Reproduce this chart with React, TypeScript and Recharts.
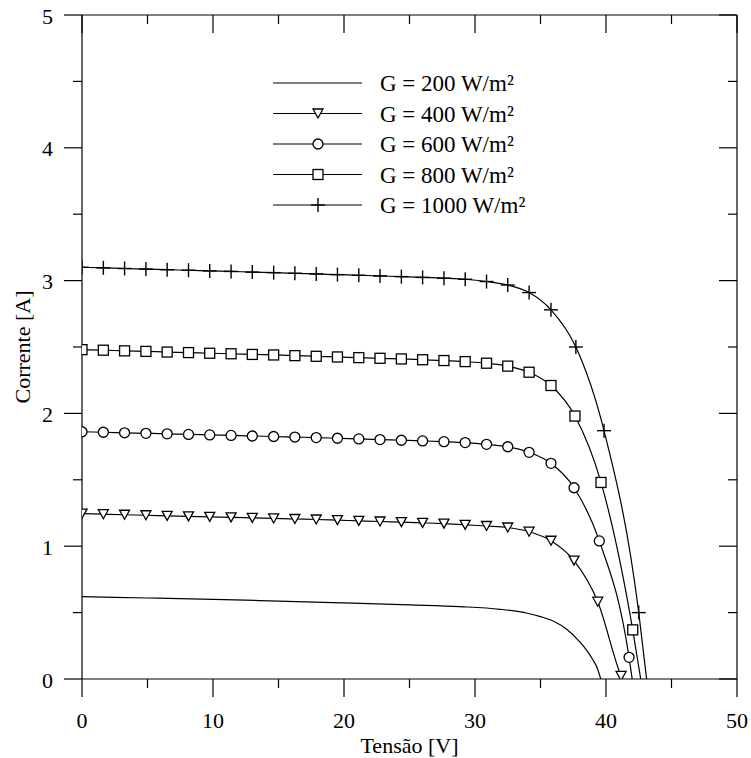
import React from 'react';
import { LineChart, Line, XAxis, YAxis, Legend } from 'recharts';

const FONTE = '"Liberation Serif", "Times New Roman", serif';

// tensões dos marcadores comuns a todas as curvas [V]
const tensaoComum = [0, 1.63, 3.25, 4.88, 6.5, 8.13, 9.75, 11.38, 13, 14.63, 16.25, 17.88, 19.5, 21.13, 22.75, 24.38, 26, 27.63, 29.25, 30.88, 32.5, 34.13, 35.8];

const corrente1000 = [3.1, 3.096, 3.091, 3.087, 3.082, 3.078, 3.073, 3.069, 3.064, 3.06, 3.055, 3.05, 3.045, 3.04, 3.035, 3.03, 3.024, 3.018, 3.01, 2.993, 2.967, 2.91, 2.78];
const tensaoFim1000 = [37.7, 39.85, 42.5, 43.1];
const correnteFim1000 = [2.5, 1.87, 0.5, 0];

const corrente800 = [2.48, 2.476, 2.471, 2.467, 2.462, 2.458, 2.453, 2.449, 2.444, 2.44, 2.435, 2.43, 2.425, 2.42, 2.415, 2.41, 2.404, 2.398, 2.39, 2.378, 2.356, 2.31, 2.21];
const tensaoFim800 = [37.63, 39.62, 42.04, 42.65];
const correnteFim800 = [1.98, 1.48, 0.37, 0];

const corrente600 = [1.862, 1.858, 1.854, 1.85, 1.846, 1.842, 1.838, 1.834, 1.83, 1.826, 1.822, 1.818, 1.813, 1.808, 1.803, 1.798, 1.793, 1.787, 1.78, 1.767, 1.749, 1.707, 1.624];
const tensaoFim600 = [37.56, 39.49, 41.76, 42.0];
const correnteFim600 = [1.44, 1.04, 0.163, 0];

const corrente400 = [1.245, 1.241, 1.237, 1.233, 1.229, 1.225, 1.221, 1.217, 1.213, 1.209, 1.205, 1.201, 1.196, 1.191, 1.186, 1.181, 1.176, 1.17, 1.161, 1.152, 1.141, 1.109, 1.041];
const tensaoFim400 = [37.56, 39.37, 41.15, 41.25];
const correnteFim400 = [0.891, 0.582, 0.023, 0];

// curva de 200 W/m² (sem marcadores)
const tensao200 = [0, 5, 10, 15, 20, 25, 28.85, 31.9, 34, 35, 36, 37, 38, 38.5, 39, 39.3, 39.6];
const corrente200 = [0.62, 0.61, 0.6, 0.587, 0.573, 0.558, 0.545, 0.525, 0.495, 0.47, 0.435, 0.375, 0.28, 0.22, 0.145, 0.09, 0];

const ticksX = [0, 5, 10, 15, 20, 25, 30, 35, 40, 45, 50];
const ticksY = [0, 0.5, 1, 1.5, 2, 2.5, 3, 3.5, 4, 4.5, 5];
const X_MAX = 50;
const Y_MAX = 5;

const rotulosLegenda = ['G = 200 W/m²', 'G = 400 W/m²', 'G = 600 W/m²', 'G = 800 W/m²', 'G = 1000 W/m²'];
const marcadoresLegenda = ['nenhum', 'triangulo', 'circulo', 'quadrado', 'cruz'];

// geometria do gráfico
const LARGURA = 751;
const ALTURA = 758;
const MARGEM = { top: 15, right: 14, bottom: 0, left: 0 };
const EIXO_Y_LARG = 82;
const EIXO_X_ALT = 79;
const PLOT_LARG = LARGURA - EIXO_Y_LARG - MARGEM.right;
const PLOT_ALT = ALTURA - MARGEM.top - EIXO_X_ALT;

function montaSerie(correntes: number[], tensaoFim: number[], correnteFim: number[]) {
  const pts = tensaoComum.map((v, k) => ({ v, i: correntes[k], m: true }));
  tensaoFim.forEach((v, k) => pts.push({ v, i: correnteFim[k], m: k < tensaoFim.length - 1 }));
  return pts;
}

const serie1000 = montaSerie(corrente1000, tensaoFim1000, correnteFim1000);
const serie800 = montaSerie(corrente800, tensaoFim800, correnteFim800);
const serie600 = montaSerie(corrente600, tensaoFim600, correnteFim600);
const serie400 = montaSerie(corrente400, tensaoFim400, correnteFim400);
const serie200 = tensao200.map((v, k) => ({ v, i: corrente200[k], m: false }));

function Marcador({ tipo, x, y }: { tipo: string; x: number; y: number }) {
  const p = { stroke: '#000', strokeWidth: 1.3, fill: '#fff' };
  if (tipo === 'triangulo') return <path d={`M${x - 5},${y - 4.5}L${x + 5},${y - 4.5}L${x},${y + 4.5}Z`} {...p} />;
  if (tipo === 'circulo') return <circle cx={x} cy={y} r={5} {...p} />;
  if (tipo === 'quadrado') return <rect x={x - 5} y={y - 5} width={10} height={10} {...p} />;
  if (tipo === 'cruz')
    return (
      <g stroke="#000" strokeWidth={1.4}>
        <line x1={x - 7} y1={y} x2={x + 7} y2={y} />
        <line x1={x} y1={y - 7} x2={x} y2={y + 7} />
      </g>
    );
  return null;
}

const pontos = (tipo: string) => (props: any) => {
  const { cx, cy, payload, index } = props;
  if (!payload.m) return <g key={`${tipo}-${index}`} />;
  return (
    <g key={`${tipo}-${index}`}>
      <Marcador tipo={tipo} x={cx} y={cy} />
    </g>
  );
};

const textoTick = { fontFamily: FONTE, fontSize: 22, fill: '#000' };

// marcas do eixo x; no valor final desenha também a borda direita com marcas para dentro
function TickBaixo({ x, y, payload }: any) {
  const maior = payload.value % 10 === 0;
  return (
    <g>
      <line x1={x} y1={y} x2={x} y2={y + (maior ? 18 : 9)} stroke="#000" strokeWidth={1.2} />
      {maior && <text x={x} y={y + 49} textAnchor="middle" {...textoTick}>{payload.value}</text>}
      {payload.value === X_MAX && (
        <g stroke="#000" strokeWidth={1.2}>
          <line x1={x} y1={y} x2={x} y2={y - PLOT_ALT} />
          {ticksY.map((t) => {
            const py = y - (PLOT_ALT * t) / Y_MAX;
            return <line key={t} x1={x} y1={py} x2={x - (Number.isInteger(t) ? 18 : 9)} y2={py} />;
          })}
        </g>
      )}
    </g>
  );
}

// marcas do eixo y; no valor final desenha também a borda de cima com marcas para dentro
function TickEsquerda({ x, y, payload }: any) {
  const maior = Number.isInteger(payload.value);
  return (
    <g>
      <line x1={x} y1={y} x2={x - (maior ? 18 : 9)} y2={y} stroke="#000" strokeWidth={1.2} />
      {maior && <text x={x - 29} y={y + 8.5} textAnchor="end" {...textoTick}>{payload.value}</text>}
      {payload.value === Y_MAX && (
        <g stroke="#000" strokeWidth={1.2}>
          <line x1={x} y1={y} x2={x + PLOT_LARG} y2={y} />
          {ticksX.map((t) => {
            const px = x + (PLOT_LARG * t) / X_MAX;
            return <line key={t} x1={px} y1={y} x2={px} y2={y + (t % 10 === 0 ? 18 : 9)} />;
          })}
        </g>
      )}
    </g>
  );
}

function Legenda() {
  return (
    <svg width={280} height={160} style={{ display: 'block' }}>
      {rotulosLegenda.map((r, k) => {
        const y = 15 + k * 30.5;
        return (
          <g key={r}>
            <line x1={3} y1={y} x2={92} y2={y} stroke="#000" strokeWidth={1.2} />
            <Marcador tipo={marcadoresLegenda[k]} x={48} y={y} />
            <text x={110} y={y + 8.4} fontFamily={FONTE} fontSize={23} fill="#000">{r}</text>
          </g>
        );
      })}
    </svg>
  );
}

export default function App() {
  const linha = { stroke: '#000', strokeWidth: 1.2, type: 'monotone' as const, isAnimationActive: false, activeDot: false as const };
  return (
    <div style={{ position: 'absolute', left: 0, top: 0, background: '#fff' }}>
      <LineChart width={LARGURA} height={ALTURA} margin={MARGEM}>
        <XAxis
          dataKey="v"
          type="number"
          domain={[0, X_MAX]}
          ticks={ticksX}
          interval={0}
          height={EIXO_X_ALT}
          tickSize={0}
          tickMargin={0}
          tickLine={false}
          axisLine={{ stroke: '#000', strokeWidth: 1.2 }}
          tick={<TickBaixo />}
          allowDataOverflow
          label={{
            content: ({ viewBox }: any) => (
              <text x={viewBox.x + viewBox.width / 2} y={viewBox.y + 74} textAnchor="middle" fontFamily={FONTE} fontSize={22} fill="#000">
                Tensão [V]
              </text>
            ),
          }}
        />
        <YAxis
          type="number"
          domain={[0, Y_MAX]}
          ticks={ticksY}
          interval={0}
          width={EIXO_Y_LARG}
          tickSize={0}
          tickMargin={0}
          tickLine={false}
          axisLine={{ stroke: '#000', strokeWidth: 1.2 }}
          tick={<TickEsquerda />}
          allowDataOverflow
          label={{
            content: ({ viewBox }: any) => {
              const cy = viewBox.y + viewBox.height / 2;
              return (
                <text x={30} y={cy} transform={`rotate(-90 30 ${cy})`} textAnchor="middle" fontFamily={FONTE} fontSize={22} fill="#000">
                  Corrente [A]
                </text>
              );
            },
          }}
        />
        <Legend
          layout="vertical"
          align="center"
          verticalAlign="middle"
          content={() => <Legenda />}
          wrapperStyle={{ left: 270, top: 68, width: 280 }}
        />
        <Line data={serie200} dataKey="i" name={rotulosLegenda[0]} dot={false} {...linha} />
        <Line data={serie400} dataKey="i" name={rotulosLegenda[1]} dot={pontos('triangulo')} {...linha} />
        <Line data={serie600} dataKey="i" name={rotulosLegenda[2]} dot={pontos('circulo')} {...linha} />
        <Line data={serie800} dataKey="i" name={rotulosLegenda[3]} dot={pontos('quadrado')} {...linha} />
        <Line data={serie1000} dataKey="i" name={rotulosLegenda[4]} dot={pontos('cruz')} {...linha} />
      </LineChart>
    </div>
  );
}
